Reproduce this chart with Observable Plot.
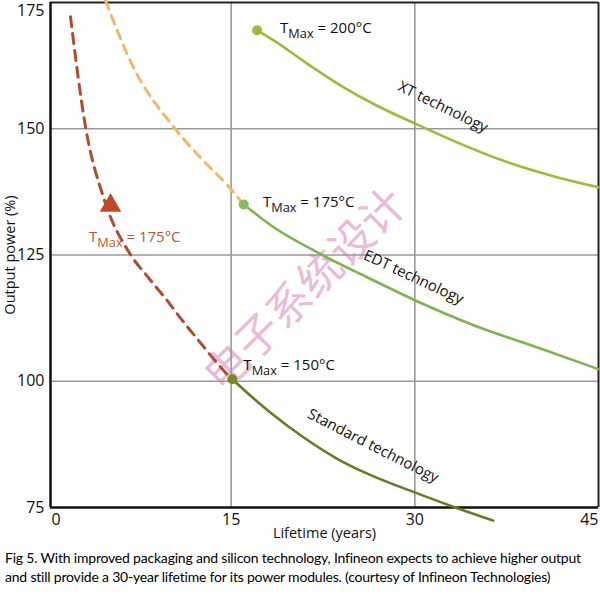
<!DOCTYPE html>
<html>
<head>
<meta charset="utf-8">
<script src="https://cdn.jsdelivr.net/npm/d3@7"></script>
<script src="https://cdn.jsdelivr.net/npm/@observablehq/plot@0.6"></script>
<style>
  html, body { margin: 0; padding: 0; background: #fff; }
  #wrap { width: 600px; }
  #caption { font-family: Lato, "Open Sans", sans-serif; font-size: 14px; line-height: 19px; color: #000;
             padding: 3px 0 0 5px; white-space: nowrap; letter-spacing: -0.2px; }
</style>
</head>
<body>
<div id="wrap"><div id="chart"></div>
<div id="caption">Fig 5. With improved packaging and silicon technology, Infineon expects to achieve higher output<br>and still provide a 30-year lifetime for its power modules. (courtesy of Infineon Technologies)</div>
</div>
<script>
// ---- data (lifetime in years, output power in %) ----
const xTicks = [0, 15, 30, 45];
const yTicks = [75, 100, 125, 150, 175];
const xDomain = [0.25, 45];
const yDomain = [75, 175];

const standardYears = [15.1, 15.5, 18.2, 20.9, 23.7, 26.4, 30.1, 33.2, 36.4];
const standardPower = [100.4, 99.5, 93.8, 88.9, 84.6, 81.4, 77.9, 75.1, 72.4];

const edtYears = [16.03, 18.48, 22.29, 26.1, 30.05, 34.81, 40.25, 45.0];
const edtPower = [135.0, 130.5, 125.2, 120.6, 116.0, 111.1, 106.5, 102.4];

const xtYears = [17.12, 18.48, 21.21, 23.92, 26.64, 30.05, 33.45, 37.53, 41.61, 45.0];
const xtPower = [169.5, 167.5, 162.9, 158.6, 154.9, 151.0, 147.3, 143.4, 140.4, 138.4];

const redYears = [1.88, 3.11, 4.66, 6.78, 8.25, 9.64, 11.03, 12.33, 13.64, 14.94];
const redPower = [172.2, 150.4, 135.8, 125.1, 120.5, 116.4, 112.0, 108.1, 104.2, 100.6];

const orangeYears = [4.74, 7.03, 10.29, 12.49, 14.7, 16.03];
const orangePower = [175.4, 162.1, 150.4, 144.3, 138.8, 135.0];

const pointYears = [15.1, 16.03, 17.12];
const pointPower = [100.4, 135.0, 169.5];
const triangleYears = [5.15];
const trianglePower = [134.8];

const xLabel = "Lifetime (years)";
const yLabel = "Output power (%)";
const watermark = "电子系统设计";

const zip = (xs, ys) => xs.map((x, i) => ({x, y: ys[i]}));
const standard = zip(standardYears, standardPower);
const edt = zip(edtYears, edtPower);
const xt = zip(xtYears, xtPower);
const red = zip(redYears, redPower);
const orange = zip(orangeYears, orangePower);
const pts = zip(pointYears, pointPower);
const tri = zip(triangleYears, trianglePower);

const font = "'Open Sans', Lato, sans-serif";
const lblSize = 15;
const crv = "monotone-x";

const chart = Plot.plot({
  width: 600, height: 545,
  marginLeft: 50, marginRight: 2, marginTop: 2, marginBottom: 38,
  x: {domain: xDomain, axis: null},
  y: {domain: yDomain, axis: null},
  style: {fontFamily: font, background: "#fff", overflow: "visible"},
  marks: [
    Plot.text([watermark], {x: 21.1, y: 118, rotate: -45, fontSize: 44, fill: "#dc8cc4", fillOpacity: 0.6, fontFamily: "'Noto Sans CJK SC', sans-serif"}),
    Plot.ruleX(xTicks.slice(1, 3), {stroke: "#999", strokeWidth: 1.6}),
    Plot.ruleY(yTicks.slice(1, 4), {stroke: "#999", strokeWidth: 1.6}),
    Plot.ruleX([xDomain[1]], {stroke: "#222", strokeWidth: 2}),
    Plot.ruleY([yDomain[1]], {stroke: "#222", strokeWidth: 2}),
    Plot.ruleX([xDomain[0]], {stroke: "#111", strokeWidth: 2.5}),
    Plot.ruleY([yDomain[0]], {stroke: "#111", strokeWidth: 2.5}),
    // dashed extrapolations
    Plot.line(orange, {x: "x", y: "y", curve: crv, stroke: "#f2b866", strokeWidth: 3, strokeDasharray: "9,7"}),
    Plot.line(red, {x: "x", y: "y", curve: crv, stroke: "#b24a30", strokeWidth: 3, strokeDasharray: "10,7"}),
    // solid curves
    Plot.line(xt, {x: "x", y: "y", curve: crv, stroke: "#9cbb3a", strokeWidth: 2.6}),
    Plot.line(edt, {x: "x", y: "y", curve: crv, stroke: "#7db54c", strokeWidth: 2.6}),
    Plot.line(standard, {x: "x", y: "y", curve: crv, stroke: "#6b7a22", strokeWidth: 2.6}),
    Plot.dot(pts, {x: "x", y: "y", r: 5, fill: ["#7a8a1e", "#84bd5a", "#9cbb3a"], stroke: "none"}),
    Plot.dot(tri, {x: "x", y: "y", symbol: "triangle", r: 8, fill: "#c0462a", stroke: "none"}),
    // annotations
    Plot.text(["TMax = 200°C"], {x: 19.0, y: 169.9, textAnchor: "start", fontSize: lblSize, fill: "#111"}),
    Plot.text(["TMax = 175°C"], {x: 17.6, y: 135.4, textAnchor: "start", fontSize: lblSize, fill: "#111"}),
    Plot.text(["TMax = 150°C"], {x: 16.0, y: 103.1, textAnchor: "start", fontSize: lblSize, fill: "#111"}),
    Plot.text(["TMax = 175°C"], {x: 3.4, y: 128.5, textAnchor: "start", fontSize: lblSize, fill: "#c0562e"}),
    Plot.text(["XT technology"], {x: 32.3, y: 154.3, rotate: 26, fontSize: lblSize, fill: "#111"}),
    Plot.text(["EDT technology"], {x: 29.9, y: 120.6, rotate: 25, fontSize: lblSize, fill: "#111"}),
    Plot.text(["Standard technology"], {x: 26.6, y: 87.2, rotate: 27, fontSize: lblSize, fill: "#111"}),
    // tick labels
    Plot.text(yTicks.filter(d => d < yDomain[1]), {x: xDomain[0], y: d => d, dx: -6, textAnchor: "end", fontSize: 16, fill: "#111"}),
    Plot.text(yTicks.filter(d => d === yDomain[1]), {x: xDomain[0], y: d => d, dx: -6, dy: 8, textAnchor: "end", fontSize: 16, fill: "#111"}),
    Plot.text(xTicks.filter(d => d > 0 && d < 45), {x: d => d, y: yDomain[0], dy: 12, fontSize: 16, fill: "#111"}),
    Plot.text(xTicks.filter(d => d === 0), {x: xDomain[0], y: yDomain[0], dx: 1, dy: 12, textAnchor: "start", fontSize: 16, fill: "#111"}),
    Plot.text(xTicks.filter(d => d === 45), {x: d => d, y: yDomain[0], dy: 12, textAnchor: "end", fontSize: 16, fill: "#111"}),
    // axis titles
    Plot.text([xLabel], {frameAnchor: "bottom", dy: 30, fontSize: 14.5, fill: "#111"}),
    Plot.text([yLabel], {frameAnchor: "left", dx: -40, rotate: -90, textAnchor: "middle", fontSize: 14.5, fill: "#111"})
  ]
});

// subscripts for T_Max labels
d3.select(chart).selectAll("text").filter(function() { return this.textContent.startsWith("TMax"); })
  .each(function() {
    const rest = this.textContent.slice(4);
    const t = d3.select(this);
    t.text("T");
    t.append("tspan").attr("dy", 5).attr("font-size", "0.85em").text("Max");
    t.append("tspan").attr("dy", -5).text(rest);
  });

document.getElementById("chart").appendChild(chart);
</script>
</body>
</html>
